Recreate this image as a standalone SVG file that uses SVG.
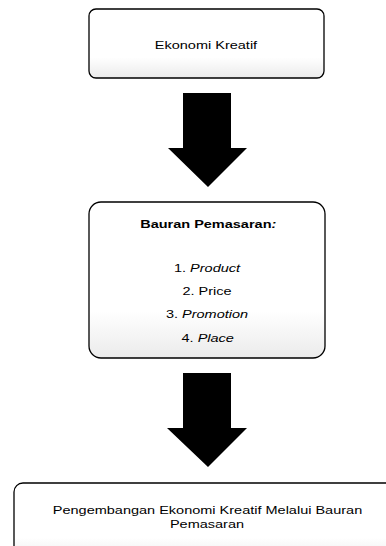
<svg xmlns="http://www.w3.org/2000/svg" width="386" height="546" viewBox="0 0 386 546">
<defs>
<linearGradient id="g" x1="0" y1="0" x2="0" y2="1">
<stop offset="0" stop-color="#ffffff"/>
<stop offset="0.7" stop-color="#ffffff"/>
<stop offset="1" stop-color="#ebebeb"/>
</linearGradient>
</defs>
<style>
.box{fill:url(#g);stroke:#000;stroke-width:1.3}
.t{font-family:"Liberation Sans",Arial,sans-serif;font-size:11.6px;fill:#000;text-anchor:middle}
.b{font-weight:bold}
.i{font-style:italic}
.arr{fill:#000}
</style>
<rect x="0" y="0" width="386" height="546" fill="#fff"/>
<g id="node-ekonomi">
<rect class="box" x="89" y="9" width="235" height="69" rx="7"/>
<g transform="scale(1.25,1)">
<text class="t" x="164.8" y="49">Ekonomi Kreatif</text>
</g>
</g>
<g id="node-bauran">
<rect class="box" x="89" y="202" width="236" height="156" rx="12"/>
<g transform="scale(1.25,1)">
<text class="t b" x="166.6" y="228.5">Bauran Pemasaran<tspan class="i">:</tspan></text>
<text class="t" x="165.6" y="272">1. <tspan class="i">Product</tspan></text>
<text class="t" x="165.6" y="295">2. Price</text>
<text class="t" x="165.6" y="318.5">3. <tspan class="i">Promotion</tspan></text>
<text class="t" x="166.2" y="342">4. <tspan class="i">Place</tspan></text>
</g>
</g>
<g id="node-pengembangan">
<rect class="box" x="14" y="483" width="390" height="78" rx="9"/>
<g transform="scale(1.25,1)">
<text class="t" x="166" y="514.5">Pengembangan Ekonomi Kreatif Melalui Bauran</text>
<text class="t" x="165.6" y="528.5">Pemasaran</text>
</g>
</g>
<g id="connectors">
<polygon class="arr" points="183,93 231,93 231,148 247,148 208,187 168,148 183,148"/>
<polygon class="arr" points="183,373 231,373 231,428 247,428 208,467 167,428 183,428"/>
</g>
</svg>
